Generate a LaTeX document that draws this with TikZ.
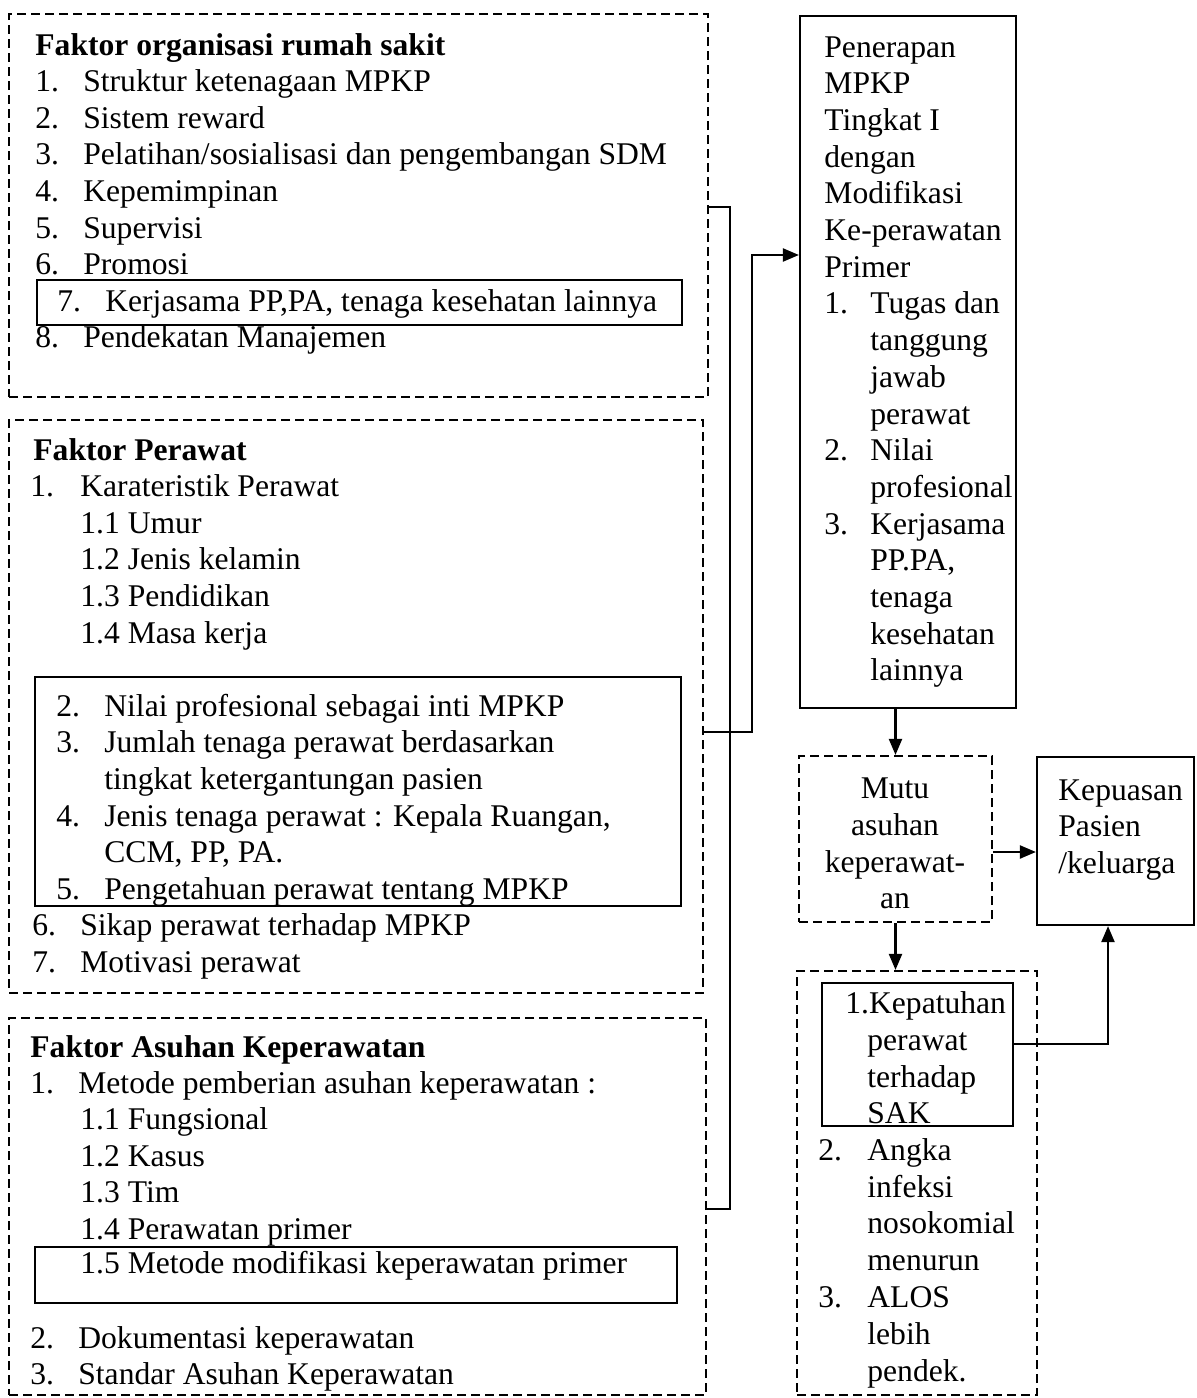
\documentclass[tikz,border=0pt]{standalone}
\usepackage{fontspec}
\setmainfont{Liberation Serif}
\usetikzlibrary{arrows.meta,fit}
\newcommand\bodyfs{\fontsize{15.8}{18.3}\selectfont}
\newcommand\nitem[3][24pt]{\makebox[#1][l]{#2}#3}
\tikzset{
  ln/.style={anchor=base west, inner sep=0pt, font=\bodyfs, yshift=-1pt},
  lnc/.style={anchor=base, inner sep=0pt, font=\bodyfs, yshift=-1pt},
  frame/.style={draw, line width=1.1pt, inner sep=0pt},
  dframe/.style={frame, dash pattern=on 4.5pt off 2.5pt},
  conn/.style={line width=1.1pt},
  arr/.style={conn, -{Triangle[length=8pt,width=6.5pt]}}
}
\begin{document}
\begin{tikzpicture}[x=0.5pt,y=-0.5pt]
\useasboundingbox (0,0) rectangle (1196,1398);

% ---------- frames ----------
\node[dframe, fit={(9,14) (708,397)}] (f1) {};
\node[frame, fit={(37,280) (682,325)}] (f1in) {};
\node[dframe, fit={(9,420) (703,993)}] (f2) {};
\node[frame, fit={(35,677) (681,906)}] (f2in) {};
\node[dframe, fit={(9,1018) (706,1395)}] (f3) {};
\node[frame, fit={(35,1247) (677,1303)}] (f3in) {};
\node[frame, fit={(800,16) (1016,708)}] (pen) {};
\node[dframe, fit={(799,756) (992,922)}] (mutu) {};
\node[frame, fit={(1037,757) (1194,925)}] (kep) {};
\node[dframe, fit={(797,971) (1037,1395)}] (out) {};
\node[frame, fit={(822,983) (1013,1126)}] (kp) {};

% ---------- Faktor organisasi rumah sakit ----------
\node[ln] (a0) at (35,53) {\textbf{Faktor organisasi rumah sakit}};
\node[ln] (a1) at (35,89.6) {\nitem{1.}{Struktur ketenagaan MPKP}};
\node[ln] (a2) at (35,126.2) {\nitem{2.}{Sistem reward}};
\node[ln] (a3) at (35,162.8) {\nitem{3.}{Pelatihan/sosialisasi dan pengembangan SDM}};
\node[ln] (a4) at (35,199.4) {\nitem{4.}{Kepemimpinan}};
\node[ln] (a5) at (35,236) {\nitem{5.}{Supervisi}};
\node[ln] (a6) at (35,272.6) {\nitem{6.}{Promosi}};
\node[ln] (a7) at (57,309.2) {\nitem{7.}{Kerjasama PP,PA, tenaga kesehatan lainnya}};
\node[ln] (a8) at (35,345.8) {\nitem{8.}{Pendekatan Manajemen}};

% ---------- Faktor Perawat ----------
\node[ln] (b0) at (33,458) {\textbf{Faktor Perawat}};
\node[ln] (b1) at (30,494.6) {\nitem[25pt]{1.}{Karateristik Perawat}};
\node[ln] (b11) at (80,531.2) {1.1 Umur};
\node[ln] (b12) at (80,567.8) {1.2 Jenis kelamin};
\node[ln] (b13) at (80,604.4) {1.3 Pendidikan};
\node[ln] (b14) at (80,641) {1.4 Masa kerja};
\node[ln] (b2) at (56,714.2) {\nitem{2.}{Nilai profesional sebagai inti MPKP}};
\node[ln] (b3) at (56,750.8) {\nitem{3.}{Jumlah tenaga perawat berdasarkan}};
\node[ln] (b3b) at (104,787.4) {tingkat ketergantungan pasien};
\node[ln] (b4) at (56,824) {\nitem{4.}{Jenis tenaga perawat : Kepala Ruangan,}};
\node[ln] (b4b) at (104,860.6) {CCM, PP, PA.};
\node[ln] (b5) at (56,897.2) {\nitem{5.}{Pengetahuan perawat tentang MPKP}};
\node[ln] (b6) at (32,933.8) {\nitem{6.}{Sikap perawat terhadap MPKP}};
\node[ln] (b7) at (32,970.4) {\nitem{7.}{Motivasi perawat}};

% ---------- Faktor Asuhan Keperawatan ----------
\node[ln] (c0) at (30,1055) {\textbf{Faktor Asuhan Keperawatan}};
\node[ln] (c1) at (30,1091) {\nitem{1.}{Metode pemberian asuhan keperawatan :}};
\node[ln] (c11) at (80,1127.5) {1.1 Fungsional};
\node[ln] (c12) at (80,1164) {1.2 Kasus};
\node[ln] (c13) at (80,1200.5) {1.3 Tim};
\node[ln] (c14) at (80,1237) {1.4 Perawatan primer};
\node[ln] (c15) at (80,1271) {1.5 Metode modifikasi keperawatan primer};
\node[ln] (c2) at (30,1346) {\nitem{2.}{Dokumentasi keperawatan}};
\node[ln] (c3) at (30,1382) {\nitem{3.}{Standar Asuhan Keperawatan}};

% ---------- Penerapan MPKP ----------
\node[ln] (p1) at (824,55) {Penerapan};
\node[ln] (p2) at (824,91.7) {MPKP};
\node[ln] (p3) at (824,128.4) {Tingkat I};
\node[ln] (p4) at (824,165.1) {dengan};
\node[ln] (p5) at (824,201.8) {Modifikasi};
\node[ln] (p6) at (824,238.5) {Ke-perawatan};
\node[ln] (p7) at (824,275.2) {Primer};
\node[ln] (p8) at (824,311.9) {\nitem[23pt]{1.}{Tugas dan}};
\node[ln] (p9) at (870,348.6) {tanggung};
\node[ln] (p10) at (870,385.3) {jawab};
\node[ln] (p11) at (870,422) {perawat};
\node[ln] (p12) at (824,458.7) {\nitem[23pt]{2.}{Nilai}};
\node[ln] (p13) at (870,495.4) {profesional};
\node[ln] (p14) at (824,532.1) {\nitem[23pt]{3.}{Kerjasama}};
\node[ln] (p15) at (870,568.8) {PP.PA,};
\node[ln] (p16) at (870,605.5) {tenaga};
\node[ln] (p17) at (870,642.2) {kesehatan};
\node[ln] (p18) at (870,678.9) {lainnya};

% ---------- Mutu asuhan keperawatan ----------
\node[lnc] (m1) at (895,796) {Mutu};
\node[lnc] (m2) at (895,833) {asuhan};
\node[lnc] (m3) at (895,870) {keperawat-};
\node[lnc] (m4) at (895,906) {an};

% ---------- Kepuasan ----------
\node[ln] (k1) at (1058,798) {Kepuasan};
\node[ln] (k2) at (1058,834) {Pasien};
\node[ln] (k3) at (1058,871) {/keluarga};

% ---------- outcomes ----------
\node[ln] (o1) at (845,1011) {1.Kepatuhan};
\node[ln] (o2) at (867,1048) {perawat};
\node[ln] (o3) at (867,1085) {terhadap};
\node[ln] (o4) at (867,1121) {SAK};
\node[ln] (o5) at (818,1158) {\nitem[24.5pt]{2.}{Angka}};
\node[ln] (o6) at (867,1195) {infeksi};
\node[ln] (o7) at (867,1231) {nosokomial};
\node[ln] (o8) at (867,1268) {menurun};
\node[ln] (o9) at (818,1305) {\nitem[24.5pt]{3.}{ALOS}};
\node[ln] (o10) at (867,1342) {lebih};
\node[ln] (o11) at (867,1379) {pendek.};

% ---------- connectors ----------
\coordinate (j1) at (730,207);
\coordinate (j3) at (730,1209);
\coordinate (j2a) at (752,732);
\coordinate (j2b) at (752,255);
\coordinate (h1) at (0,852);
\coordinate (h2) at (1108,1044);

\draw[conn] (f1.east |- j1) -- (j1) -- (j3) -- (f3.east |- j3);
\draw[arr] (f2.east |- j2a) -- (j2a) -- (j2b) -- (pen.west |- j2b);
\draw[arr] (mutu.north |- pen.south) -- (mutu.north);
\draw[arr] (mutu.south) -- (mutu.south |- out.north);
\draw[arr] (mutu.east |- h1) -- (kep.west |- h1);
\draw[arr] (kp.east |- h2) -- (h2) -- (h2 |- kep.south);
\end{tikzpicture}
\end{document}
